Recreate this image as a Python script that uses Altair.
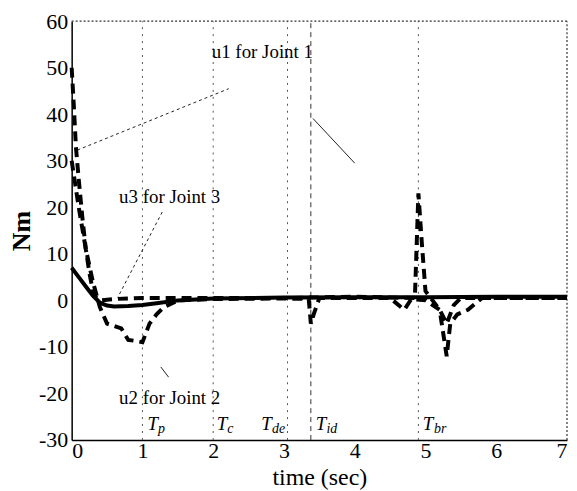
import altair as alt
import pandas as pd

# ---- data ----
u1_t = [0, 0.03, 0.06, 0.1, 0.15, 0.2, 0.25, 0.3, 0.35, 0.4, 0.6, 1.0, 2.0, 3.0, 4.0, 4.85, 4.9, 4.95, 5.0, 5.1, 5.2, 5.3, 5.4, 5.5, 6.0, 7.0]
u1_v = [50, 42, 33, 26, 18, 11, 6, 2, 0.5, 0, 0.3, 0.5, 0.5, 0.5, 0.8, 0.5, 23, 12, 2, 0, -2, -5, -1, 0.5, 0.5, 0.5]

u2_t = [0, 0.05, 0.1, 0.2, 0.3, 0.4, 0.5, 0.6, 0.7, 0.8, 0.9, 1.0, 1.1, 1.2, 1.3, 1.5, 2.0, 3.0, 3.35, 3.38, 3.42, 3.5, 4.0, 4.5, 4.7, 4.8, 5.0, 5.2, 5.3, 5.35, 5.45, 5.6, 5.8, 7.0]
u2_v = [30, 25, 20, 11, 4, -1.5, -5, -5.5, -6, -8.5, -8.7, -9, -5, -3, -1.5, 0, 0.3, 0.4, 0.3, -5, -3, 0.5, 0.5, 0.5, -2, 0.3, 0, -2, -12, -5, -3, -2, 0.5, 0.5]

u3_t = [0, 0.1, 0.2, 0.3, 0.4, 0.5, 0.6, 0.8, 1.0, 1.2, 1.5, 2.0, 3.0, 4.0, 5.0, 6.0, 7.0]
u3_v = [7, 5, 3, 1, -0.5, -1.1, -1.3, -1.2, -1.0, -0.6, 0, 0.4, 0.6, 0.7, 0.7, 0.8, 0.8]

x_ticks = [0, 1, 2, 3, 4, 5, 6, 7]
y_ticks = [-30, -20, -10, 0, 10, 20, 30, 40, 50, 60]

marker_names = ["Tp", "Tc", "Tde", "Tid", "Tbr"]
marker_t = [1.0, 2.0, 3.05, 3.38, 4.9]
marker_sub = ["p", "c", "de", "id", "br"]
marker_T_x = [1.07, 2.05, 2.68, 3.45, 4.96]
marker_sub_x = [1.22, 2.2, 2.83, 3.6, 5.12]

labels = ["u1 for Joint 1", "u3 for Joint 3", "u2 for Joint 2"]
label_t = [1.98, 0.67, 0.67]
label_v = [52, 21, -22.2]

FONT = "Liberation Serif"

xs = alt.Scale(domain=[0, 7], nice=False)
ys = alt.Scale(domain=[-30, 60], nice=False)

dashed = pd.concat([
    pd.DataFrame({"t": u1_t, "v": u1_v, "s": "u1"}),
    pd.DataFrame({"t": u2_t, "v": u2_v, "s": "u2"}),
])
solid = pd.DataFrame({"t": u3_t, "v": u3_v})

X = alt.X("t:Q", scale=xs, axis=alt.Axis(values=x_ticks, title="time (sec)",
                                         labelExpr="'' + datum.value"))
Y = alt.Y("v:Q", scale=ys, axis=alt.Axis(values=y_ticks, title="Nm",
                                         labelExpr="'' + datum.value"))

markers = pd.DataFrame({"t": marker_t, "name": marker_names,
                        "dash": ["dot", "dot", "dot", "dash", "dot"]})
dot_rules = alt.Chart(markers[markers.dash == "dot"]).mark_rule(
    color="#555", strokeWidth=1, strokeDash=[2, 5]
).encode(x=alt.X("t:Q", scale=xs), y=alt.datum(-30), y2=alt.datum(60))
dash_rule = alt.Chart(markers[markers.dash == "dash"]).mark_rule(
    color="#333", strokeWidth=1, strokeDash=[5, 4]
).encode(x=alt.X("t:Q", scale=xs), y=alt.datum(-30), y2=alt.datum(60))

border = pd.DataFrame({"k": [0]})
top_rule = alt.Chart(border).mark_rule(color="#333", strokeWidth=1.2, strokeDash=[2, 2]).encode(
    x=alt.datum(0, scale=xs), x2=alt.datum(7), y=alt.datum(60, scale=ys))
right_rule = alt.Chart(border).mark_rule(color="#333", strokeWidth=1.2, strokeDash=[2, 2]).encode(
    x=alt.datum(7, scale=xs), y=alt.datum(-30, scale=ys), y2=alt.datum(60))

lead = pd.DataFrame({
    "t": [0.08, 3.41, 1.28, 1.26],
    "v": [32.3, 39.1, 19.0, -14.3],
    "t2": [2.22, 4.0, 0.65, 1.37],
    "v2": [45.5, 29.5, 0.6, -16.5],
    "style": ["dash", "solid", "dash", "solid"],
})
lead_dash = alt.Chart(lead[lead["style"] == "dash"]).mark_rule(
    color="#222", strokeWidth=1, strokeDash=[3, 3]
).encode(x=alt.X("t:Q", scale=xs), y=alt.Y("v:Q", scale=ys), x2="t2:Q", y2="v2:Q")
lead_solid = alt.Chart(lead[lead["style"] == "solid"]).mark_rule(
    color="#222", strokeWidth=1
).encode(x=alt.X("t:Q", scale=xs), y=alt.Y("v:Q", scale=ys), x2="t2:Q", y2="v2:Q")

dash_lines = alt.Chart(dashed).mark_line(
    color="black", strokeWidth=4, strokeDash=[10, 6]
).encode(x=X, y=Y, detail="s:N", order="t:Q")
solid_line = alt.Chart(solid).mark_line(color="black", strokeWidth=4).encode(x=X, y=Y)

lab_df = pd.DataFrame({"t": label_t, "v": label_v, "txt": labels})
lab_text = alt.Chart(lab_df).mark_text(
    font=FONT, fontSize=19, align="left", baseline="alphabetic", color="black"
).encode(x=alt.X("t:Q", scale=xs), y=alt.Y("v:Q", scale=ys), text="txt:N")

T_df = pd.DataFrame({"t": marker_T_x, "v": [-27.8] * 5, "txt": ["T"] * 5})
T_text = alt.Chart(T_df).mark_text(
    font=FONT, fontSize=19, fontStyle="italic", align="left", baseline="alphabetic", color="black"
).encode(x=alt.X("t:Q", scale=xs), y=alt.Y("v:Q", scale=ys), text="txt:N")
sub_df = pd.DataFrame({"t": marker_sub_x, "v": [-28.4] * 5, "txt": marker_sub})
sub_text = alt.Chart(sub_df).mark_text(
    font=FONT, fontSize=14, fontStyle="italic", align="left", baseline="alphabetic", color="black"
).encode(x=alt.X("t:Q", scale=xs), y=alt.Y("v:Q", scale=ys), text="txt:N")

chart = alt.layer(
    dot_rules, dash_rule, top_rule, right_rule, lead_dash, lead_solid,
    dash_lines, solid_line, lab_text, T_text, sub_text
).properties(
    width=498, height=421,
    autosize=alt.AutoSizeParams(type="none"),
    padding={"left": 64, "top": 12, "right": 2, "bottom": 50},
).configure_view(stroke=None).configure_axis(
    labelFont=FONT, labelFontSize=22, labelColor="black",
    titleFont=FONT, titleColor="black",
    domainColor="black", domainWidth=1.5, ticks=False, grid=False,
).configure_axisX(
    titleFontSize=24, titleFontWeight="normal", titlePadding=4, labelPadding=1,
).configure_axisY(
    titleFontSize=26, titleFontWeight="bold", titlePadding=4, labelPadding=4,
)

chart.save("out.html", embed_options={"renderer": "svg", "actions": False})
